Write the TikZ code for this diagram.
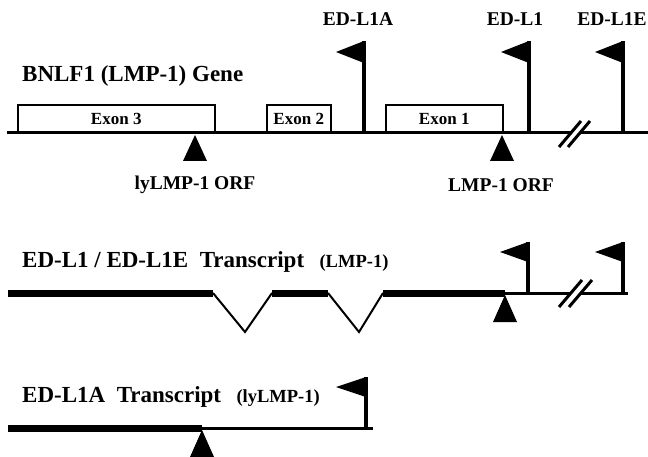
\documentclass[tikz,border=0pt]{standalone}
\usepackage{fontspec}
\setmainfont{Liberation Serif}

\tikzset{
  exon/.style={draw, line width=1.5pt, minimum height=27pt, inner sep=0pt,
    anchor=south west, font=\fontsize{17}{19}\selectfont\bfseries},
  lbl/.style={inner sep=0pt, font=\fontsize{19.5}{21}\selectfont\bfseries},
  title/.style={inner sep=0pt, anchor=base west, font=\fontsize{23}{25}\selectfont\bfseries},
  small/.style={inner sep=0pt, anchor=base west, font=\fontsize{18.5}{20}\selectfont\bfseries},
  dna/.style={line width=3pt},
  mrna/.style={line width=7pt},
  intron/.style={line width=2pt, line join=miter},
  pole/.style={line width=4pt},
  slash/.style={line width=3pt},
}

\begin{document}
\begin{tikzpicture}[x=1pt,y=-1pt]
   \useasboundingbox (0,0) rectangle (648,457);

   % gene
   \node[title] (gene) at (22,82) {BNLF1 (LMP-1) Gene};
   \coordinate (g0) at (7,133);
   \coordinate (g1) at (648,133);
   \draw[dna] (g0) -- (g1);
   \node[exon, minimum width=197pt] (ex3) at (17,133) {Exon 3};
   \node[exon, minimum width=64pt] (ex2) at (266,133) {Exon 2};
   \node[exon, minimum width=117pt] (ex1) at (385,133) {Exon 1};

   \coordinate (pa) at (364,133);
   \coordinate (pat) at (364,41);
   \coordinate (pb) at (529,133);
   \coordinate (pbt) at (529,41);
   \coordinate (pc) at (623,133);
   \coordinate (pct) at (623,41);
   \draw[pole] (pa) -- (pat);
   \draw[pole] (pb) -- (pbt);
   \draw[pole] (pc) -- (pct);
   \fill (pat) -- ++(-28,11) -- ++(28,11) -- cycle;
   \fill (pbt) -- ++(-28,11) -- ++(28,11) -- cycle;
   \fill (pct) -- ++(-28,11) -- ++(28,11) -- cycle;
   \node[lbl] (la) at (358,19) {ED-L1A};
   \node[lbl] (lb) at (515,19) {ED-L1};
   \node[lbl] (lc) at (612,19) {ED-L1E};

   \coordinate (brk) at (575,134);
   \fill[white] (brk) ++(-16,13) -- ++(22,-26) -- ++(9,0) -- ++(-22,26) -- cycle;
   \draw[slash] (brk) ++(-16,13) -- ++(22,-26);
   \draw[slash] (brk) ++(-7,13) -- ++(22,-26);

   \coordinate (orf3) at (195,135);
   \coordinate (orf1) at (502,135);
   \fill (orf3) -- ++(-12,26) -- ++(24,0) -- cycle;
   \fill (orf1) -- ++(-12,26) -- ++(24,0) -- cycle;
   \node[lbl] (lorf3) at (195,185) {lyLMP-1 ORF};
   \node[lbl] (lorf1) at (501,185) {LMP-1 ORF};

   % ED-L1 / ED-L1E transcript
   \node[title] (t1) at (22,267) {ED-L1 / ED-L1E\ \ Transcript};
   \node[small] (t1s) at ([xshift=15pt]t1.base east) {(LMP-1)};
   \coordinate (a0) at (8,293);
   \coordinate (a1) at (213,293);
   \coordinate (v1) at (245,332);
   \coordinate (a2) at (272,293);
   \coordinate (a3) at (328,293);
   \coordinate (v2) at (359,332);
   \coordinate (a4) at (383,293);
   \coordinate (a5) at (505,293);
   \coordinate (a6) at (628,293);
   \draw[mrna] (a0) -- (a1);
   \draw[mrna] (a2) -- (a3);
   \draw[mrna] (a4) -- (a5);
   \draw[intron] (a1) -- (v1) -- (a2);
   \draw[intron] (a3) -- (v2) -- (a4);
   \draw[dna] (a5) -- (a6);
   \coordinate (qb) at (528,293);
   \coordinate (qbt) at (528,242);
   \coordinate (qc) at (623,293);
   \coordinate (qct) at (623,242);
   \draw[pole] (qb) -- (qbt);
   \draw[pole] (qc) -- (qct);
   \fill (qbt) -- ++(-28,10) -- ++(28,10) -- cycle;
   \fill (qct) -- ++(-28,10) -- ++(28,10) -- cycle;
   \coordinate (brk2) at (576,294);
   \fill[white] (brk2) ++(-17,13) -- ++(23,-27) -- ++(10,0) -- ++(-23,27) -- cycle;
   \draw[slash] (brk2) ++(-17,13) -- ++(23,-27);
   \draw[slash] (brk2) ++(-7,13) -- ++(23,-27);
   \fill (a5) ++(0,2) -- ++(-12,27) -- ++(24,0) -- cycle;

   % ED-L1A transcript
   \node[title] (t2) at (22,402) {ED-L1A\ \ Transcript};
   \node[small] (t2s) at ([xshift=15pt]t2.base east) {(lyLMP-1)};
   \coordinate (b0) at (8,428);
   \coordinate (b1) at (202,428);
   \coordinate (b2) at (373,428);
   \draw[mrna] (b0) -- (b1);
   \draw[dna] (b1) -- (b2);
   \coordinate (ra) at (366,428);
   \coordinate (rat) at (366,377);
   \draw[pole] (ra) -- (rat);
   \fill (rat) -- ++(-30,10) -- ++(30,10) -- cycle;
   \fill (b1) ++(0,2) -- ++(-12,27) -- ++(24,0) -- cycle;
\end{tikzpicture}
\end{document}
